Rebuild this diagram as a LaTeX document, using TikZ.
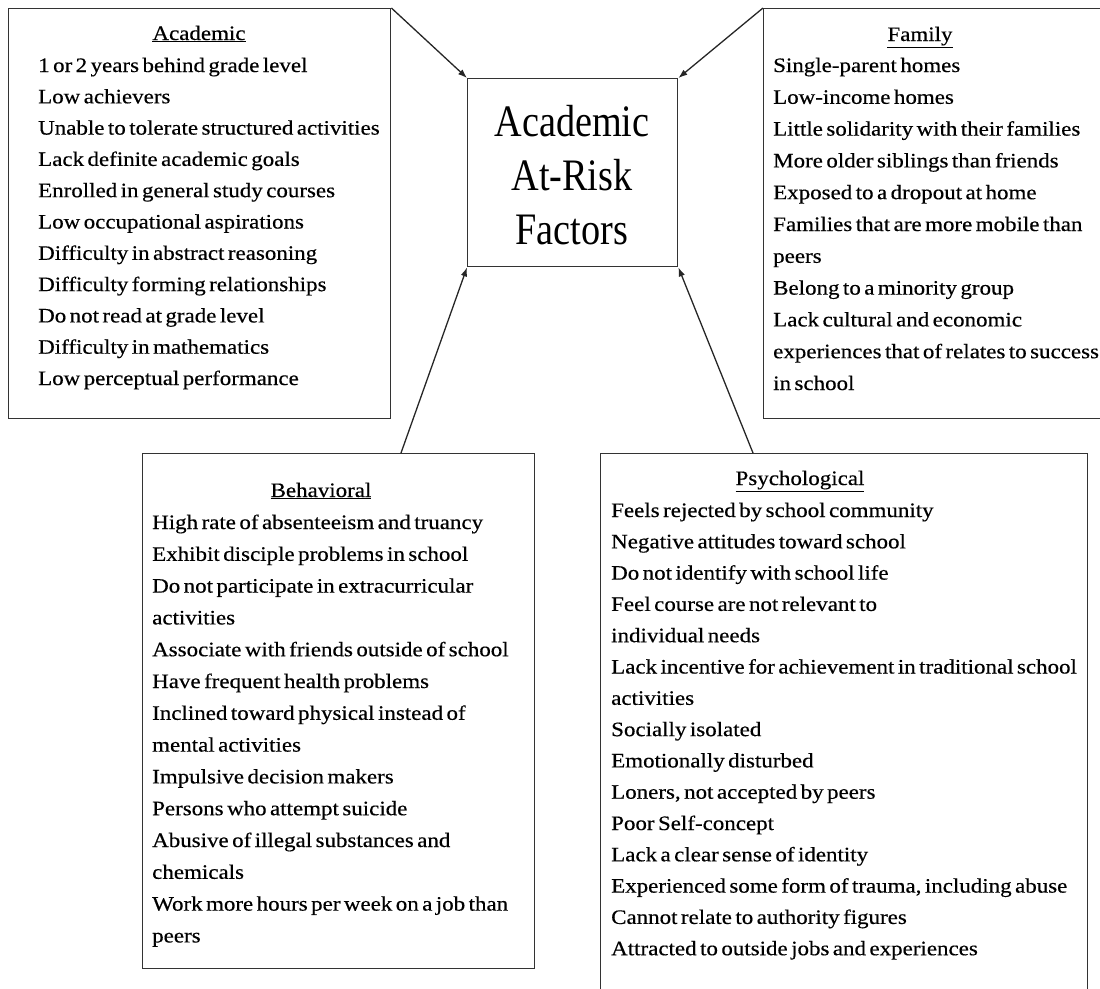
\documentclass[tikz,border=0pt]{standalone}
\usepackage{fontspec}
\setmainfont{Liberation Serif}
\newfontfamily\bodyfont{Liberation Serif}[FakeStretch=1.12,WordSpace=0.6,FakeBold=0.4]
\newfontfamily\bigfont{Liberation Serif}[FakeStretch=0.85]
\usetikzlibrary{arrows.meta}
\begin{document}
\begin{tikzpicture}[x=1pt,y=-1pt,
  box/.style={draw=black!80, line width=1.4pt, rectangle, inner sep=0pt, anchor=north west, fill=white},
  item/.style={anchor=base west, inner sep=0pt, font=\bodyfont\fontsize{20.5}{24}\selectfont, text=black},
  head/.style={anchor=base, inner sep=0pt, font=\bodyfont\fontsize{20.5}{24}\selectfont, text=black},
  big/.style={anchor=base, inner sep=0pt, font=\bigfont\fontsize{45}{50}\selectfont, text=black},
  conn/.style={draw=black!85, line width=1.3pt, -{Latex[length=9pt,width=6.5pt]}}]
\useasboundingbox (0,0) rectangle (1100,988);
\clip (0,0) rectangle (1100,988);

% boxes
\node[box, minimum width=382pt, minimum height=410pt] (acad) at (8,8) {};
\node[box, minimum width=380pt, minimum height=410pt] (fam) at (763,8) {};
\node[box, minimum width=210pt, minimum height=188pt] (ctr) at (467,78) {};
\node[box, minimum width=392pt, minimum height=515pt] (beh) at (142,453) {};
\node[box, minimum width=487pt, minimum height=600pt] (psy) at (600,453) {};

% centre text
\node[big] (c1) at (572,136) {Academic};
\node[big] (c2) at (572,190) {At-Risk};
\node[big] (c3) at (572,244) {Factors};

% Academic
\node[head] (acadh) at (199,40) {\underline{Academic}};
\foreach \t [count=\i] in {
  1 or 2 years behind grade level,
  Low achievers,
  Unable to tolerate structured activities,
  Lack definite academic goals,
  Enrolled in general study courses,
  Low occupational aspirations,
  Difficulty in abstract reasoning,
  Difficulty forming relationships,
  Do not read at grade level,
  Difficulty in mathematics,
  Low perceptual performance}
  \node[item] (acad\i) at (38,{72+(\i-1)*31.3}) {\t};

% Family
\node[head] (famh) at (920,41) {\underline{Family}};
\foreach \t [count=\i] in {
  Single-parent homes,
  Low-income homes,
  Little solidarity with their families,
  More older siblings than friends,
  Exposed to a dropout at home,
  Families that are more mobile than,
  peers,
  Belong to a minority group,
  Lack cultural and economic,
  experiences that of relates to success,
  in school}
  \node[item] (fam\i) at (773,{72+(\i-1)*31.8}) {\t};

% Behavioral
\node[head] (behh) at (321,497) {\underline{Behavioral}};
\foreach \t [count=\i] in {
  High rate of absenteeism and truancy,
  Exhibit disciple problems in school,
  Do not participate in extracurricular,
  activities,
  Associate with friends outside of school,
  Have frequent health problems,
  Inclined toward physical instead of,
  mental activities,
  Impulsive decision makers,
  Persons who attempt suicide,
  Abusive of illegal substances and,
  chemicals,
  Work more hours per week on a job than,
  peers}
  \node[item] (beh\i) at (152,{529+(\i-1)*31.8}) {\t};

% Psychological
\node[head] (psyh) at (800,485) {\underline{Psychological}};
\foreach \t [count=\i] in {
  Feels rejected by school community,
  Negative attitudes toward school,
  Do not identify with school life,
  Feel course are not relevant to,
  individual needs,
  Lack incentive for achievement in traditional school,
  activities,
  Socially isolated,
  Emotionally disturbed,
  {Loners, not accepted by peers},
  Poor Self-concept,
  Lack a clear sense of identity,
  {Experienced some form of trauma, including abuse},
  Cannot relate to authority figures,
  Attracted to outside jobs and experiences}
  \node[item] (psy\i) at (611,{517+(\i-1)*31.3}) {\t};

% connectors
\coordinate (bstart) at ([xshift=259pt]beh.north west);
\coordinate (pstart) at ([xshift=153pt]psy.north west);
\draw[conn] (acad.north east) -- (ctr.north west);
\draw[conn] (fam.north west) -- (ctr.north east);
\draw[conn] (bstart) -- (ctr.south west);
\draw[conn] (pstart) -- (ctr.south east);
\end{tikzpicture}
\end{document}
